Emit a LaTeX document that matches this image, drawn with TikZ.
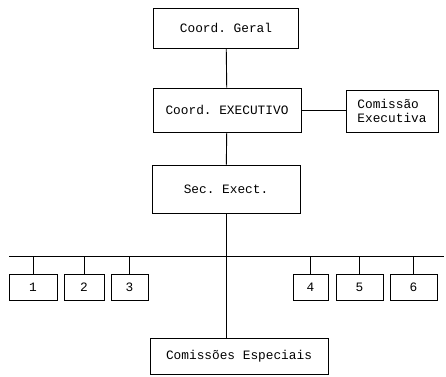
\documentclass[tikz,border=0pt]{standalone}
\usepackage{fontspec}
\setmonofont{Liberation Mono}
\usepackage{tikz}
\usetikzlibrary{positioning,calc}

\begin{document}
\begin{tikzpicture}[x=1pt, y=-1pt, line width=0.9pt,
  box/.style={draw, inner sep=0pt, font=\ttfamily\fontsize{12.8}{14}\selectfont},
  unit/.style={box, minimum height=26pt}]
\useasboundingbox (0,0) rectangle (446,376);
\node[box, minimum width=145pt, minimum height=40pt] (geral) at (226,28) {Coord. Geral};
\node[box, minimum width=148pt, minimum height=44pt] (exec) at (227,110) {Coord. EXECUTIVO};
\node[box, minimum width=92pt, minimum height=42pt, align=left] (cexec) at (392,111) {Comiss\~ao\\Executiva};
\node[box, minimum width=148pt, minimum height=48pt] (sec) at (226,189) {Sec. Exect.};
\node[box, minimum width=178pt, minimum height=36pt] (esp) at (239,356) {Comiss\~oes Especiais};
\coordinate (busL) at (9,256);
\coordinate (busR) at (444,256);
\node[unit, minimum width=48pt] (u1) at (33,287) {1};
\node[unit, minimum width=40pt] (u2) at (84,287) {2};
\node[unit, minimum width=37pt] (u3) at (129.5,287) {3};
\node[unit, minimum width=35pt] (u4) at (310.5,287) {4};
\node[unit, minimum width=47pt] (u5) at (359.5,287) {5};
\node[unit, minimum width=47pt] (u6) at (413.5,287) {6};
\draw (geral) -- (exec);
\draw (exec.east) -- (exec.east -| cexec.west);
\draw (exec) -- (sec);
\draw (sec.south) -- (sec.south |- esp.north);
\draw (busL) -- (busR);
\foreach \u in {u1,u2,u3,u4,u5,u6}
  \draw (\u.north) -- (\u.north |- busL);
\end{tikzpicture}
\end{document}
